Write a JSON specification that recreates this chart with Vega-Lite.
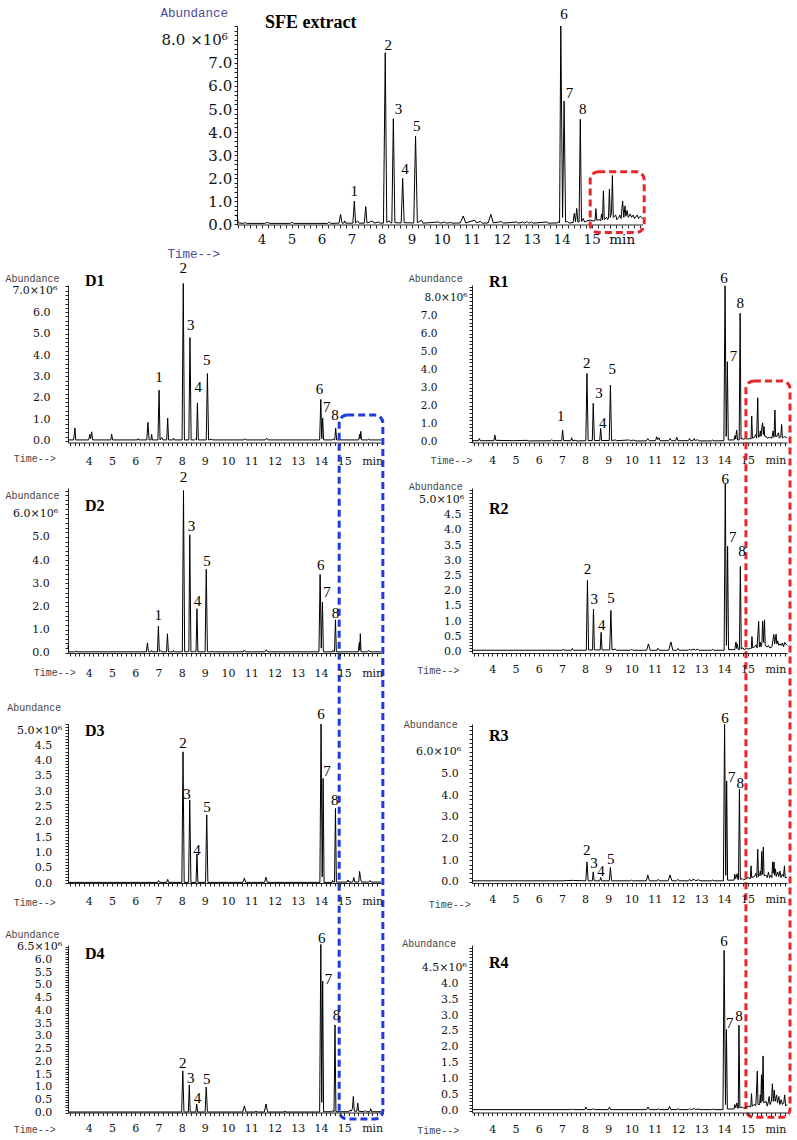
{
"$schema": "https://vega.github.io/schema/vega-lite/v6.json",
"padding": {"left": 5, "top": 6, "right": 2, "bottom": 2},
"bounds": "flush",
"spacing": 60,
"config": {"view": {"stroke": null}, "axis": {"grid": false, "domainColor": "#222", "tickColor": "#222", "labelColor": "#111", "tickSize": 3, "domainWidth": 1}},
"datasets": {
"sfe": [{"t":3.18,"y":0.43},{"t":3.22,"y":0.06},{"t":3.4,"y":0.04},{"t":3.45,"y":0.08},{"t":3.5,"y":0.04},{"t":4.1,"y":0.04},{"t":4.2,"y":0.08},{"t":4.28,"y":0.04},{"t":4.95,"y":0.04},{"t":5.0,"y":0.08},{"t":5.1,"y":0.04},{"t":6.2,"y":0.04},{"t":6.25,"y":0.1},{"t":6.3,"y":0.04},{"t":6.58,"y":0.05},{"t":6.63,"y":0.43},{"t":6.68,"y":0.06},{"t":6.74,"y":0.05},{"t":6.77,"y":0.15},{"t":6.8,"y":0.05},{"t":7.04,"y":0.05},{"t":7.09,"y":1.01},{"t":7.13,"y":0.06},{"t":7.2,"y":0.15},{"t":7.25,"y":0.05},{"t":7.42,"y":0.05},{"t":7.47,"y":0.77},{"t":7.51,"y":0.06},{"t":7.7,"y":0.14},{"t":7.75,"y":0.05},{"t":7.9,"y":0.1},{"t":7.95,"y":0.05},{"t":8.06,"y":0.05},{"t":8.12,"y":7.44},{"t":8.17,"y":0.08},{"t":8.25,"y":0.15},{"t":8.3,"y":0.06},{"t":8.34,"y":0.06},{"t":8.39,"y":4.58},{"t":8.44,"y":0.07},{"t":8.65,"y":0.06},{"t":8.7,"y":1.99},{"t":8.75,"y":0.07},{"t":9.07,"y":0.06},{"t":9.13,"y":3.83},{"t":9.19,"y":0.07},{"t":9.33,"y":0.18},{"t":9.38,"y":0.05},{"t":9.9,"y":0.1},{"t":9.95,"y":0.05},{"t":10.1,"y":0.1},{"t":10.15,"y":0.05},{"t":10.3,"y":0.08},{"t":10.35,"y":0.05},{"t":10.62,"y":0.06},{"t":10.72,"y":0.36},{"t":10.8,"y":0.06},{"t":11.1,"y":0.18},{"t":11.15,"y":0.07},{"t":11.3,"y":0.12},{"t":11.35,"y":0.05},{"t":11.55,"y":0.06},{"t":11.64,"y":0.43},{"t":11.72,"y":0.06},{"t":12.0,"y":0.12},{"t":12.05,"y":0.05},{"t":12.5,"y":0.1},{"t":12.55,"y":0.05},{"t":12.7,"y":0.1},{"t":12.75,"y":0.05},{"t":12.85,"y":0.12},{"t":12.9,"y":0.05},{"t":13.0,"y":0.1},{"t":13.05,"y":0.05},{"t":13.5,"y":0.1},{"t":13.55,"y":0.05},{"t":13.85,"y":0.06},{"t":13.9,"y":0.12},{"t":13.93,"y":0.06},{"t":13.97,"y":8.6},{"t":14.03,"y":0.3},{"t":14.08,"y":5.35},{"t":14.13,"y":0.1},{"t":14.2,"y":0.12},{"t":14.25,"y":0.05},{"t":14.38,"y":0.08},{"t":14.42,"y":0.47},{"t":14.46,"y":0.1},{"t":14.5,"y":0.69},{"t":14.54,"y":0.1},{"t":14.58,"y":0.1},{"t":14.62,"y":4.55},{"t":14.66,"y":0.12},{"t":14.72,"y":0.25},{"t":14.76,"y":0.1},{"t":14.85,"y":0.15},{"t":14.95,"y":0.18},{"t":15.05,"y":0.15},{"t":15.11,"y":0.15},{"t":15.14,"y":0.68},{"t":15.17,"y":0.18},{"t":15.25,"y":0.2},{"t":15.3,"y":0.15},{"t":15.33,"y":0.45},{"t":15.36,"y":0.2},{"t":15.39,"y":1.45},{"t":15.42,"y":0.2},{"t":15.5,"y":0.3},{"t":15.53,"y":0.2},{"t":15.56,"y":0.25},{"t":15.59,"y":1.52},{"t":15.62,"y":0.3},{"t":15.66,"y":0.5},{"t":15.69,"y":2.12},{"t":15.72,"y":0.3},{"t":15.8,"y":0.4},{"t":15.84,"y":0.2},{"t":15.9,"y":0.3},{"t":15.94,"y":0.4},{"t":15.98,"y":0.25},{"t":16.03,"y":1.01},{"t":16.07,"y":0.3},{"t":16.11,"y":0.8},{"t":16.14,"y":0.35},{"t":16.18,"y":0.6},{"t":16.22,"y":0.3},{"t":16.28,"y":0.45},{"t":16.33,"y":0.3},{"t":16.38,"y":0.4},{"t":16.43,"y":0.25},{"t":16.48,"y":0.35},{"t":16.52,"y":0.4},{"t":16.56,"y":0.25},{"t":16.62,"y":0.35},{"t":16.7,"y":0.25}],
"sfeL": [{"n":"1","t":7.09,"y":1.45},{"n":"2","t":8.22,"y":7.76},{"n":"3","t":8.56,"y":4.99},{"n":"4","t":8.78,"y":2.38},{"n":"5","t":9.17,"y":4.26},{"n":"6","t":14.08,"y":9.1},{"n":"7","t":14.26,"y":5.71},{"n":"8","t":14.7,"y":5.01}],
"d1": [{"t":3.11,"y":0.04},{"t":3.35,"y":0.04},{"t":3.38,"y":0.3},{"t":3.41,"y":0.6},{"t":3.44,"y":0.04},{"t":4.0,"y":0.04},{"t":4.05,"y":0.3},{"t":4.08,"y":0.1},{"t":4.13,"y":0.42},{"t":4.17,"y":0.04},{"t":4.95,"y":0.04},{"t":4.99,"y":0.31},{"t":5.03,"y":0.04},{"t":6.1,"y":0.04},{"t":6.13,"y":0.1},{"t":6.16,"y":0.04},{"t":6.5,"y":0.04},{"t":6.55,"y":0.86},{"t":6.6,"y":0.04},{"t":6.68,"y":0.04},{"t":6.71,"y":0.3},{"t":6.74,"y":0.04},{"t":6.98,"y":0.04},{"t":7.03,"y":2.36},{"t":7.07,"y":0.04},{"t":7.15,"y":0.15},{"t":7.19,"y":0.04},{"t":7.36,"y":0.04},{"t":7.4,"y":1.06},{"t":7.44,"y":0.04},{"t":7.62,"y":0.04},{"t":7.65,"y":0.12},{"t":7.69,"y":0.04},{"t":8.02,"y":0.04},{"t":8.07,"y":7.34},{"t":8.12,"y":0.04},{"t":8.31,"y":0.04},{"t":8.36,"y":4.82},{"t":8.41,"y":0.04},{"t":8.56,"y":0.04},{"t":8.6,"y":0.08},{"t":8.64,"y":0.04},{"t":8.68,"y":1.77},{"t":8.72,"y":0.04},{"t":9.06,"y":0.04},{"t":9.11,"y":3.14},{"t":9.16,"y":0.04},{"t":9.3,"y":0.07},{"t":9.34,"y":0.04},{"t":10.68,"y":0.04},{"t":10.73,"y":0.1},{"t":10.78,"y":0.04},{"t":11.6,"y":0.04},{"t":11.66,"y":0.12},{"t":11.72,"y":0.04},{"t":13.94,"y":0.04},{"t":13.99,"y":1.93},{"t":14.03,"y":0.1},{"t":14.07,"y":1.06},{"t":14.11,"y":0.04},{"t":14.48,"y":0.04},{"t":14.52,"y":0.08},{"t":14.56,"y":0.04},{"t":14.59,"y":0.04},{"t":14.63,"y":0.59},{"t":14.67,"y":0.04},{"t":15.62,"y":0.04},{"t":15.66,"y":0.3},{"t":15.68,"y":0.1},{"t":15.71,"y":0.44},{"t":15.74,"y":0.04},{"t":16.0,"y":0.04},{"t":16.05,"y":0.08},{"t":16.1,"y":0.04},{"t":16.58,"y":0.04}],
"d1L": [{"n":"1","t":7.03,"y":2.99},{"n":"2","t":8.07,"y":8.08},{"n":"3","t":8.39,"y":5.4},{"n":"4","t":8.71,"y":2.52},{"n":"5","t":9.08,"y":3.76},{"n":"6","t":13.93,"y":2.44},{"n":"7","t":14.24,"y":1.59},{"n":"8","t":14.6,"y":1.2}],
"r1": [{"t":3.125,"y":0.06},{"t":3.4,"y":0.06},{"t":3.44,"y":0.18},{"t":3.48,"y":0.06},{"t":4.07,"y":0.06},{"t":4.11,"y":0.37},{"t":4.15,"y":0.08},{"t":4.9,"y":0.06},{"t":5.5,"y":0.08},{"t":5.55,"y":0.05},{"t":6.52,"y":0.06},{"t":6.56,"y":0.12},{"t":6.6,"y":0.06},{"t":6.99,"y":0.06},{"t":7.03,"y":0.65},{"t":7.07,"y":0.07},{"t":7.38,"y":0.06},{"t":7.42,"y":0.22},{"t":7.46,"y":0.06},{"t":7.6,"y":0.08},{"t":7.65,"y":0.05},{"t":8.03,"y":0.06},{"t":8.08,"y":3.79},{"t":8.13,"y":0.07},{"t":8.31,"y":0.07},{"t":8.35,"y":2.13},{"t":8.4,"y":0.07},{"t":8.63,"y":0.07},{"t":8.67,"y":0.74},{"t":8.71,"y":0.07},{"t":9.04,"y":0.07},{"t":9.09,"y":3.14},{"t":9.14,"y":0.07},{"t":9.3,"y":0.1},{"t":9.35,"y":0.06},{"t":9.9,"y":0.1},{"t":9.95,"y":0.05},{"t":10.1,"y":0.1},{"t":10.15,"y":0.05},{"t":10.64,"y":0.05},{"t":10.7,"y":0.18},{"t":10.76,"y":0.06},{"t":11.04,"y":0.06},{"t":11.08,"y":0.28},{"t":11.13,"y":0.12},{"t":11.18,"y":0.22},{"t":11.23,"y":0.06},{"t":11.6,"y":0.06},{"t":11.66,"y":0.18},{"t":11.72,"y":0.06},{"t":11.9,"y":0.06},{"t":11.95,"y":0.25},{"t":12.0,"y":0.06},{"t":12.45,"y":0.06},{"t":12.5,"y":0.18},{"t":12.55,"y":0.06},{"t":12.65,"y":0.06},{"t":12.7,"y":0.18},{"t":12.75,"y":0.06},{"t":12.85,"y":0.12},{"t":12.9,"y":0.05},{"t":13.45,"y":0.05},{"t":13.5,"y":0.1},{"t":13.55,"y":0.05},{"t":13.98,"y":0.06},{"t":14.03,"y":8.65},{"t":14.08,"y":0.3},{"t":14.13,"y":4.44},{"t":14.17,"y":0.1},{"t":14.42,"y":0.1},{"t":14.46,"y":0.35},{"t":14.49,"y":0.15},{"t":14.53,"y":0.65},{"t":14.57,"y":0.1},{"t":14.64,"y":0.1},{"t":14.68,"y":7.12},{"t":14.72,"y":0.15},{"t":14.78,"y":0.2},{"t":14.82,"y":0.12},{"t":14.9,"y":0.18},{"t":15.0,"y":0.15},{"t":15.08,"y":0.18},{"t":15.15,"y":0.15},{"t":15.18,"y":1.42},{"t":15.21,"y":0.2},{"t":15.3,"y":0.25},{"t":15.35,"y":0.4},{"t":15.39,"y":0.2},{"t":15.44,"y":2.44},{"t":15.47,"y":0.25},{"t":15.52,"y":0.3},{"t":15.55,"y":0.6},{"t":15.58,"y":0.3},{"t":15.62,"y":0.85},{"t":15.65,"y":1.05},{"t":15.68,"y":0.4},{"t":15.71,"y":0.85},{"t":15.74,"y":0.3},{"t":15.8,"y":0.3},{"t":15.85,"y":0.2},{"t":15.95,"y":0.25},{"t":16.05,"y":0.2},{"t":16.1,"y":0.6},{"t":16.14,"y":0.25},{"t":16.18,"y":1.76},{"t":16.21,"y":0.3},{"t":16.27,"y":0.3},{"t":16.33,"y":0.5},{"t":16.37,"y":0.2},{"t":16.43,"y":0.3},{"t":16.47,"y":0.96},{"t":16.5,"y":0.2},{"t":16.55,"y":0.25},{"t":16.6,"y":0.3},{"t":16.7,"y":0.2}],
"r1L": [{"n":"1","t":6.95,"y":1.44},{"n":"2","t":8.07,"y":4.38},{"n":"3","t":8.6,"y":2.72},{"n":"4","t":8.76,"y":1.05},{"n":"5","t":9.17,"y":4.01},{"n":"6","t":13.99,"y":9.06},{"n":"7","t":14.39,"y":4.75},{"n":"8","t":14.68,"y":7.67}],
"d2": [{"t":3.11,"y":0.32},{"t":3.14,"y":0.04},{"t":3.4,"y":0.04},{"t":3.45,"y":0.07},{"t":3.5,"y":0.04},{"t":6.48,"y":0.04},{"t":6.53,"y":0.43},{"t":6.57,"y":0.04},{"t":6.68,"y":0.04},{"t":6.71,"y":0.1},{"t":6.74,"y":0.04},{"t":6.96,"y":0.04},{"t":7.0,"y":1.15},{"t":7.04,"y":0.04},{"t":7.1,"y":0.1},{"t":7.14,"y":0.04},{"t":7.35,"y":0.04},{"t":7.39,"y":0.82},{"t":7.43,"y":0.04},{"t":7.62,"y":0.04},{"t":7.65,"y":0.1},{"t":7.69,"y":0.04},{"t":8.03,"y":0.04},{"t":8.08,"y":7.0},{"t":8.13,"y":0.04},{"t":8.22,"y":0.04},{"t":8.25,"y":0.08},{"t":8.28,"y":0.04},{"t":8.31,"y":0.04},{"t":8.35,"y":5.09},{"t":8.4,"y":0.04},{"t":8.5,"y":0.04},{"t":8.54,"y":0.08},{"t":8.58,"y":0.04},{"t":8.62,"y":0.04},{"t":8.66,"y":1.9},{"t":8.7,"y":0.04},{"t":9.01,"y":0.04},{"t":9.06,"y":3.6},{"t":9.11,"y":0.04},{"t":9.27,"y":0.04},{"t":9.3,"y":0.08},{"t":9.33,"y":0.04},{"t":10.65,"y":0.04},{"t":10.7,"y":0.12},{"t":10.75,"y":0.04},{"t":11.58,"y":0.04},{"t":11.64,"y":0.13},{"t":11.7,"y":0.04},{"t":13.91,"y":0.04},{"t":13.96,"y":3.38},{"t":14.01,"y":0.2},{"t":14.06,"y":2.19},{"t":14.1,"y":0.04},{"t":14.47,"y":0.04},{"t":14.5,"y":0.1},{"t":14.53,"y":0.04},{"t":14.58,"y":0.04},{"t":14.62,"y":1.42},{"t":14.66,"y":0.04},{"t":15.6,"y":0.04},{"t":15.65,"y":0.46},{"t":15.67,"y":0.1},{"t":15.69,"y":0.82},{"t":15.72,"y":0.04},{"t":16.0,"y":0.04},{"t":16.05,"y":0.1},{"t":16.1,"y":0.04},{"t":16.58,"y":0.04}],
"d2L": [{"n":"1","t":6.99,"y":1.65},{"n":"2","t":8.08,"y":7.6},{"n":"3","t":8.42,"y":5.47},{"n":"4","t":8.68,"y":2.22},{"n":"5","t":9.09,"y":3.96},{"n":"6","t":13.99,"y":3.77},{"n":"7","t":14.26,"y":2.62},{"n":"8","t":14.62,"y":1.71}],
"r2": [{"t":3.125,"y":0.04},{"t":7.02,"y":0.04},{"t":7.06,"y":0.08},{"t":7.1,"y":0.04},{"t":7.41,"y":0.04},{"t":7.45,"y":0.1},{"t":7.49,"y":0.04},{"t":8.05,"y":0.04},{"t":8.1,"y":2.34},{"t":8.15,"y":0.05},{"t":8.32,"y":0.05},{"t":8.36,"y":1.39},{"t":8.4,"y":0.05},{"t":8.65,"y":0.05},{"t":8.69,"y":0.63},{"t":8.73,"y":0.05},{"t":9.06,"y":0.05},{"t":9.11,"y":1.35},{"t":9.16,"y":0.05},{"t":9.3,"y":0.08},{"t":9.34,"y":0.04},{"t":9.95,"y":0.04},{"t":10.0,"y":0.08},{"t":10.05,"y":0.04},{"t":10.65,"y":0.04},{"t":10.73,"y":0.25},{"t":10.8,"y":0.04},{"t":11.1,"y":0.04},{"t":11.15,"y":0.1},{"t":11.2,"y":0.04},{"t":11.6,"y":0.04},{"t":11.7,"y":0.31},{"t":11.78,"y":0.04},{"t":11.95,"y":0.04},{"t":12.0,"y":0.1},{"t":12.05,"y":0.04},{"t":12.45,"y":0.04},{"t":12.5,"y":0.08},{"t":12.55,"y":0.04},{"t":12.7,"y":0.08},{"t":12.75,"y":0.04},{"t":12.85,"y":0.08},{"t":12.9,"y":0.04},{"t":13.45,"y":0.04},{"t":13.5,"y":0.07},{"t":13.55,"y":0.04},{"t":13.99,"y":0.04},{"t":14.04,"y":5.52},{"t":14.09,"y":0.2},{"t":14.14,"y":3.46},{"t":14.18,"y":0.06},{"t":14.45,"y":0.06},{"t":14.5,"y":0.31},{"t":14.53,"y":0.1},{"t":14.56,"y":0.25},{"t":14.6,"y":0.06},{"t":14.65,"y":0.06},{"t":14.69,"y":2.8},{"t":14.73,"y":0.08},{"t":14.8,"y":0.12},{"t":14.85,"y":0.06},{"t":14.95,"y":0.1},{"t":15.05,"y":0.08},{"t":15.12,"y":0.1},{"t":15.16,"y":0.1},{"t":15.19,"y":0.49},{"t":15.22,"y":0.12},{"t":15.3,"y":0.15},{"t":15.37,"y":0.22},{"t":15.41,"y":0.12},{"t":15.48,"y":0.99},{"t":15.51,"y":0.15},{"t":15.55,"y":0.3},{"t":15.58,"y":0.15},{"t":15.62,"y":0.3},{"t":15.65,"y":1.0},{"t":15.69,"y":0.3},{"t":15.73,"y":1.04},{"t":15.76,"y":0.2},{"t":15.85,"y":0.15},{"t":15.9,"y":0.2},{"t":15.95,"y":0.12},{"t":16.05,"y":0.15},{"t":16.1,"y":0.4},{"t":16.13,"y":0.56},{"t":16.17,"y":0.25},{"t":16.23,"y":0.57},{"t":16.26,"y":0.25},{"t":16.3,"y":0.35},{"t":16.35,"y":0.2},{"t":16.4,"y":0.25},{"t":16.45,"y":0.2},{"t":16.5,"y":0.28},{"t":16.55,"y":0.15},{"t":16.6,"y":0.3},{"t":16.7,"y":0.2}],
"r2L": [{"n":"2","t":8.1,"y":2.72},{"n":"3","t":8.39,"y":1.73},{"n":"4","t":8.72,"y":0.88},{"n":"5","t":9.11,"y":1.77},{"n":"6","t":14.04,"y":5.66},{"n":"7","t":14.36,"y":3.76},{"n":"8","t":14.76,"y":3.32}],
"d3": [{"t":3.11,"y":0.02},{"t":6.97,"y":0.02},{"t":7.01,"y":0.08},{"t":7.05,"y":0.02},{"t":7.36,"y":0.02},{"t":7.4,"y":0.12},{"t":7.44,"y":0.02},{"t":8.01,"y":0.02},{"t":8.06,"y":4.29},{"t":8.11,"y":0.02},{"t":8.3,"y":0.02},{"t":8.35,"y":2.71},{"t":8.4,"y":0.02},{"t":8.62,"y":0.02},{"t":8.66,"y":0.95},{"t":8.7,"y":0.02},{"t":9.03,"y":0.02},{"t":9.08,"y":2.23},{"t":9.13,"y":0.02},{"t":10.64,"y":0.02},{"t":10.7,"y":0.16},{"t":10.76,"y":0.02},{"t":11.57,"y":0.02},{"t":11.63,"y":0.19},{"t":11.69,"y":0.02},{"t":13.95,"y":0.02},{"t":14.0,"y":5.2},{"t":14.05,"y":0.2},{"t":14.09,"y":3.42},{"t":14.13,"y":0.02},{"t":14.47,"y":0.02},{"t":14.5,"y":0.08},{"t":14.53,"y":0.03},{"t":14.58,"y":0.03},{"t":14.62,"y":2.44},{"t":14.66,"y":0.03},{"t":15.12,"y":0.03},{"t":15.16,"y":0.1},{"t":15.2,"y":0.03},{"t":15.36,"y":0.03},{"t":15.41,"y":0.18},{"t":15.45,"y":0.03},{"t":15.62,"y":0.03},{"t":15.66,"y":0.38},{"t":15.7,"y":0.15},{"t":15.74,"y":0.03},{"t":16.05,"y":0.03},{"t":16.1,"y":0.08},{"t":16.15,"y":0.03},{"t":16.58,"y":0.03}],
"d3L": [{"n":"2","t":8.06,"y":4.58},{"n":"3","t":8.23,"y":2.91},{"n":"4","t":8.66,"y":1.09},{"n":"5","t":9.09,"y":2.49},{"n":"6","t":14.0,"y":5.52},{"n":"7","t":14.26,"y":3.67},{"n":"8","t":14.59,"y":2.73}],
"r3": [{"t":3.125,"y":0.05},{"t":7.0,"y":0.05},{"t":7.45,"y":0.07},{"t":8.03,"y":0.05},{"t":8.08,"y":0.92},{"t":8.13,"y":0.05},{"t":8.31,"y":0.05},{"t":8.35,"y":0.46},{"t":8.39,"y":0.05},{"t":8.63,"y":0.05},{"t":8.67,"y":0.2},{"t":8.71,"y":0.05},{"t":9.04,"y":0.05},{"t":9.09,"y":0.66},{"t":9.14,"y":0.05},{"t":9.95,"y":0.05},{"t":10.0,"y":0.08},{"t":10.05,"y":0.05},{"t":10.64,"y":0.05},{"t":10.7,"y":0.32},{"t":10.77,"y":0.05},{"t":11.1,"y":0.05},{"t":11.15,"y":0.12},{"t":11.2,"y":0.05},{"t":11.58,"y":0.05},{"t":11.66,"y":0.32},{"t":11.74,"y":0.05},{"t":11.95,"y":0.05},{"t":12.0,"y":0.12},{"t":12.05,"y":0.05},{"t":12.45,"y":0.05},{"t":12.5,"y":0.12},{"t":12.55,"y":0.05},{"t":12.7,"y":0.12},{"t":12.75,"y":0.05},{"t":12.9,"y":0.1},{"t":12.95,"y":0.05},{"t":13.45,"y":0.05},{"t":13.5,"y":0.09},{"t":13.55,"y":0.05},{"t":13.96,"y":0.05},{"t":14.01,"y":7.25},{"t":14.06,"y":0.3},{"t":14.1,"y":4.65},{"t":14.14,"y":0.08},{"t":14.42,"y":0.08},{"t":14.45,"y":0.35},{"t":14.49,"y":0.15},{"t":14.55,"y":0.38},{"t":14.59,"y":0.1},{"t":14.61,"y":0.1},{"t":14.65,"y":4.26},{"t":14.69,"y":0.12},{"t":14.78,"y":0.15},{"t":14.83,"y":0.1},{"t":14.95,"y":0.15},{"t":15.05,"y":0.2},{"t":15.1,"y":0.15},{"t":15.12,"y":0.15},{"t":15.15,"y":0.74},{"t":15.18,"y":0.2},{"t":15.3,"y":0.25},{"t":15.36,"y":0.4},{"t":15.4,"y":0.2},{"t":15.44,"y":1.5},{"t":15.47,"y":0.25},{"t":15.52,"y":0.3},{"t":15.55,"y":0.5},{"t":15.58,"y":0.3},{"t":15.61,"y":1.4},{"t":15.64,"y":0.35},{"t":15.68,"y":1.61},{"t":15.71,"y":0.3},{"t":15.8,"y":0.3},{"t":15.85,"y":0.2},{"t":15.9,"y":0.45},{"t":15.95,"y":0.2},{"t":16.0,"y":0.3},{"t":16.05,"y":0.2},{"t":16.08,"y":0.92},{"t":16.11,"y":0.4},{"t":16.14,"y":0.92},{"t":16.17,"y":0.3},{"t":16.2,"y":0.6},{"t":16.24,"y":0.25},{"t":16.3,"y":0.45},{"t":16.34,"y":0.25},{"t":16.4,"y":0.5},{"t":16.44,"y":0.2},{"t":16.5,"y":0.35},{"t":16.55,"y":0.25},{"t":16.59,"y":0.74},{"t":16.62,"y":0.2},{"t":16.7,"y":0.2}],
"r3L": [{"n":"2","t":8.07,"y":1.46},{"n":"3","t":8.38,"y":0.89},{"n":"4","t":8.68,"y":0.48},{"n":"5","t":9.1,"y":1.07},{"n":"6","t":14.03,"y":7.56},{"n":"7","t":14.32,"y":4.85},{"n":"8","t":14.68,"y":4.57}],
"d4": [{"t":3.11,"y":0.02},{"t":8.0,"y":0.02},{"t":8.05,"y":1.63},{"t":8.1,"y":0.02},{"t":8.29,"y":0.02},{"t":8.33,"y":1.08},{"t":8.37,"y":0.02},{"t":8.61,"y":0.02},{"t":8.65,"y":0.33},{"t":8.69,"y":0.02},{"t":9.01,"y":0.02},{"t":9.06,"y":1.0},{"t":9.11,"y":0.02},{"t":10.63,"y":0.02},{"t":10.7,"y":0.26},{"t":10.77,"y":0.02},{"t":11.15,"y":0.02},{"t":11.2,"y":0.05},{"t":11.25,"y":0.02},{"t":11.56,"y":0.02},{"t":11.63,"y":0.33},{"t":11.7,"y":0.02},{"t":12.4,"y":0.02},{"t":12.45,"y":0.05},{"t":12.5,"y":0.02},{"t":13.94,"y":0.02},{"t":13.99,"y":6.58},{"t":14.03,"y":0.4},{"t":14.07,"y":5.15},{"t":14.11,"y":0.03},{"t":14.46,"y":0.03},{"t":14.5,"y":0.08},{"t":14.54,"y":0.03},{"t":14.56,"y":0.03},{"t":14.6,"y":3.43},{"t":14.64,"y":0.03},{"t":15.2,"y":0.03},{"t":15.25,"y":0.1},{"t":15.3,"y":0.05},{"t":15.35,"y":0.15},{"t":15.39,"y":0.63},{"t":15.43,"y":0.05},{"t":15.54,"y":0.05},{"t":15.58,"y":0.37},{"t":15.62,"y":0.05},{"t":15.85,"y":0.03},{"t":15.9,"y":0.08},{"t":15.95,"y":0.03},{"t":16.1,"y":0.03},{"t":16.14,"y":0.15},{"t":16.18,"y":0.03},{"t":16.58,"y":0.03}],
"d4L": [{"n":"2","t":8.05,"y":1.92},{"n":"3","t":8.39,"y":1.37},{"n":"4","t":8.68,"y":0.55},{"n":"5","t":9.08,"y":1.3},{"n":"6","t":14.03,"y":6.84},{"n":"7","t":14.32,"y":5.22},{"n":"8","t":14.67,"y":3.81}],
"r4": [{"t":3.125,"y":0.04},{"t":7.4,"y":0.04},{"t":7.45,"y":0.06},{"t":7.5,"y":0.04},{"t":7.99,"y":0.04},{"t":8.04,"y":0.12},{"t":8.09,"y":0.04},{"t":8.3,"y":0.04},{"t":8.35,"y":0.07},{"t":8.4,"y":0.04},{"t":9.0,"y":0.04},{"t":9.05,"y":0.12},{"t":9.1,"y":0.04},{"t":10.65,"y":0.04},{"t":10.71,"y":0.12},{"t":10.77,"y":0.04},{"t":11.1,"y":0.04},{"t":11.15,"y":0.07},{"t":11.2,"y":0.04},{"t":11.58,"y":0.04},{"t":11.64,"y":0.14},{"t":11.7,"y":0.04},{"t":11.95,"y":0.04},{"t":12.0,"y":0.07},{"t":12.05,"y":0.04},{"t":12.45,"y":0.04},{"t":12.5,"y":0.07},{"t":12.55,"y":0.04},{"t":12.7,"y":0.07},{"t":12.75,"y":0.04},{"t":12.9,"y":0.06},{"t":12.95,"y":0.04},{"t":13.45,"y":0.04},{"t":13.5,"y":0.06},{"t":13.55,"y":0.04},{"t":13.94,"y":0.04},{"t":13.99,"y":5.02},{"t":14.05,"y":0.2},{"t":14.09,"y":2.55},{"t":14.13,"y":0.06},{"t":14.42,"y":0.06},{"t":14.45,"y":0.2},{"t":14.49,"y":0.1},{"t":14.54,"y":0.25},{"t":14.58,"y":0.08},{"t":14.6,"y":0.08},{"t":14.63,"y":2.68},{"t":14.67,"y":0.1},{"t":14.78,"y":0.12},{"t":14.85,"y":0.08},{"t":14.95,"y":0.12},{"t":15.05,"y":0.15},{"t":15.12,"y":0.12},{"t":15.14,"y":0.12},{"t":15.17,"y":0.54},{"t":15.2,"y":0.15},{"t":15.3,"y":0.2},{"t":15.35,"y":0.15},{"t":15.38,"y":0.5},{"t":15.42,"y":1.25},{"t":15.45,"y":0.2},{"t":15.52,"y":0.2},{"t":15.55,"y":0.5},{"t":15.57,"y":0.25},{"t":15.6,"y":1.13},{"t":15.63,"y":0.3},{"t":15.67,"y":1.72},{"t":15.7,"y":0.25},{"t":15.8,"y":0.3},{"t":15.85,"y":0.15},{"t":15.9,"y":0.3},{"t":15.93,"y":0.45},{"t":15.97,"y":0.2},{"t":16.03,"y":0.3},{"t":16.07,"y":0.85},{"t":16.11,"y":0.3},{"t":16.15,"y":0.65},{"t":16.19,"y":0.3},{"t":16.25,"y":0.5},{"t":16.29,"y":0.25},{"t":16.35,"y":0.45},{"t":16.39,"y":0.2},{"t":16.45,"y":0.35},{"t":16.5,"y":0.2},{"t":16.56,"y":0.25},{"t":16.6,"y":0.5},{"t":16.64,"y":0.15},{"t":16.7,"y":0.2}],
"r4L": [{"n":"6","t":13.99,"y":5.31},{"n":"7","t":14.23,"y":2.76},{"n":"8","t":14.63,"y":2.97}]
},
"vconcat": [
{"width": 575, "height": 199, "layer": [
 {"data": {"name": "sfe"}, "mark": {"type": "line", "color": "#000", "strokeWidth": 1, "clip": false},
  "encoding": {
   "x": {"field": "t", "type": "quantitative", "scale": {"domain": [-2.4533, 16.71], "nice": false, "zero": false},
    "axis": {"tickCount": 96, "domain": false, "tickOpacity": {"condition": {"test": "datum.value < 3.18", "value": 0}, "value": 1}, "labelExpr": "datum.value < 3.18 ? '' : (datum.value == 16 ? 'min' : (datum.value % 1 == 0 ? '' + datum.value : ''))", "labelOverlap": false, "labelFlush": false, "labelBound": false, "labelFont": "DejaVu Serif", "labelFontSize": 13.5, "labelBaseline": "middle", "labelPadding": 11, "title": "Time-->", "titleFont": "Liberation Mono", "titleFontSize": 12.5, "titleFontWeight": "normal", "titleColor": "#4b4b9b", "titleAngle": 0, "titleAlign": "left", "titleBaseline": "middle", "titleX": 99, "titleY": 28}},
   "y": {"field": "y", "type": "quantitative", "scale": {"domain": [-0.03, 8.6], "nice": false, "zero": false},
    "axis": {"offset": -169, "tickCount": 43, "labelExpr": "datum.value == 8 ? '8.0 ×10⁶' : (datum.value % 1 == 0 && datum.value < 8 ? format(datum.value, '.1f') : '')", "labelOverlap": false, "labelFlush": false, "labelBound": false, "labelFont": "DejaVu Serif", "labelFontSize": 15, "labelPadding": {"condition": {"test": "datum.value == 8", "value": 6.7}, "value": 2.3}, "title": "Abundance", "titleFont": "Liberation Mono", "titleFontSize": 12.5, "titleFontWeight": "normal", "titleColor": "#4b4b9b", "titleAngle": 0, "titleAlign": "left", "titleBaseline": "alphabetic", "titleX": -77, "titleY": -10}}}},
 {"data": {"values": [{}]}, "mark": {"type": "rule", "color": "#222", "strokeWidth": 1}, "encoding": {"x": {"datum": 3.18}, "x2": {"datum": 16.71}, "y": {"datum": -0.03}}},
 {"data": {"name": "sfeL"}, "mark": {"type": "text", "font": "Liberation Serif", "fontSize": 15, "baseline": "middle"}, "encoding": {"x": {"field": "t", "type": "quantitative"}, "y": {"field": "y", "type": "quantitative"}, "text": {"field": "n"}}},
 {"data": {"values": [{}]}, "mark": {"type": "text", "text": "SFE extract", "font": "Liberation Serif", "fontWeight": "bold", "fontSize": 18, "align": "left", "baseline": "alphabetic"}, "encoding": {"x": {"datum": 4.11}, "y": {"datum": 8.51}}},
 {"data": {"values": [{}]}, "mark": {"type": "rect", "fill": "#fff", "fillOpacity": 0, "stroke": "#e8262c", "strokeWidth": 3, "strokeDash": [7, 4], "cornerRadius": 8, "clip": false}, "encoding": {"x": {"datum": 14.95}, "x2": {"datum": 16.75}, "y": {"datum": 2.28}, "y2": {"datum": -0.35}}}
]},
{"bounds": "flush", "columns": 2, "spacing": {"row": 22, "column": 91}, "align": "each", "concat": [
{"width": 313, "height": 157.5, "layer": [
 {"data": {"name": "d1"}, "mark": {"type": "line", "color": "#000", "strokeWidth": 1, "clip": false},
  "encoding": {
   "x": {"field": "t", "type": "quantitative", "scale": {"domain": [3.11, 16.58], "nice": false, "zero": false},
    "axis": {"tickCount": 67, "labelExpr": "datum.value == 16.2 ? 'min' : (datum.value % 1 == 0 && datum.value < 16 ? '' + datum.value : '')", "labelOverlap": false, "labelFlush": false, "labelBound": false, "labelFont": "DejaVu Serif", "labelFontSize": 11, "labelBaseline": "middle", "labelPadding": 16, "title": "Time-->", "titleFont": "Liberation Mono", "titleFontSize": 10, "titleFontWeight": "normal", "titleColor": "#444", "titleAngle": 0, "titleAlign": "left", "titleBaseline": "middle", "titleX": -54.7, "titleY": 15.8}},
   "y": {"field": "y", "type": "quantitative", "scale": {"domain": [-0.08, 7.27], "nice": false, "zero": false},
    "axis": {"tickCount": 37, "labelExpr": "datum.value == 7 ? '7.0×10⁶' : (datum.value % 1 == 0 && datum.value < 7 ? format(datum.value, '.1f') : '')", "labelOverlap": false, "labelFlush": false, "labelBound": false, "labelFont": "DejaVu Serif", "labelFontSize": 11, "labelPadding": {"condition": {"test": "datum.value == 7", "value": 8}, "value": 15}, "title": "Abundance", "titleFont": "Liberation Mono", "titleFontSize": 10, "titleFontWeight": "normal", "titleColor": "#444", "titleAngle": 0, "titleAlign": "left", "titleBaseline": "alphabetic", "titleX": -63, "titleY": -3.5}}}},
 {"data": {"name": "d1L"}, "mark": {"type": "text", "font": "Liberation Serif", "fontSize": 15, "baseline": "middle"}, "encoding": {"x": {"field": "t", "type": "quantitative"}, "y": {"field": "y", "type": "quantitative"}, "text": {"field": "n"}}},
 {"data": {"values": [{}]}, "mark": {"type": "text", "text": "D1", "font": "Liberation Serif", "fontWeight": "bold", "fontSize": 16, "align": "left", "baseline": "alphabetic"}, "encoding": {"x": {"datum": 3.84}, "y": {"datum": 7.22}}},
 {"data": {"values": [{}]}, "mark": {"type": "rect", "fill": "#fff", "fillOpacity": 0, "stroke": "#1f3be0", "strokeWidth": 3, "strokeDash": [7, 4], "cornerRadius": 8, "clip": false}, "encoding": {"x": {"datum": 14.78}, "x2": {"datum": 16.66}, "y": {"datum": 1.2}, "y2": {"datum": -31.65}}}
]},
{"width": 315, "height": 157.5, "layer": [
 {"data": {"name": "r1"}, "mark": {"type": "line", "color": "#000", "strokeWidth": 1, "clip": false},
  "encoding": {
   "x": {"field": "t", "type": "quantitative", "scale": {"domain": [3.125, 16.7], "nice": false, "zero": false},
    "axis": {"tickCount": 68, "labelExpr": "datum.value == 16.2 ? 'min' : (datum.value % 1 == 0 && datum.value < 16 ? '' + datum.value : '')", "labelOverlap": false, "labelFlush": false, "labelBound": false, "labelFont": "DejaVu Serif", "labelFontSize": 11, "labelBaseline": "middle", "labelPadding": 14.5, "title": "Time-->", "titleFont": "Liberation Mono", "titleFontSize": 10, "titleFontWeight": "normal", "titleColor": "#444", "titleAngle": 0, "titleAlign": "left", "titleBaseline": "middle", "titleX": -42, "titleY": 17.5}},
   "y": {"field": "y", "type": "quantitative", "scale": {"domain": [-0.04, 8.69], "nice": false, "zero": false},
    "axis": {"tickCount": 44, "labelExpr": "datum.value == 8 ? '8.0×10⁶' : (datum.value % 1 == 0 && datum.value < 8 ? format(datum.value, '.1f') : '')", "labelOverlap": false, "labelFlush": false, "labelBound": false, "labelFont": "DejaVu Serif", "labelFontSize": 10.5, "labelPadding": {"condition": {"test": "datum.value == 8", "value": 2}, "value": 32}, "title": "Abundance", "titleFont": "Liberation Mono", "titleFontSize": 10, "titleFontWeight": "normal", "titleColor": "#444", "titleAngle": 0, "titleAlign": "left", "titleBaseline": "alphabetic", "titleX": -63.7, "titleY": -3.2}}}},
 {"data": {"name": "r1L"}, "mark": {"type": "text", "font": "Liberation Serif", "fontSize": 15, "baseline": "middle"}, "encoding": {"x": {"field": "t", "type": "quantitative"}, "y": {"field": "y", "type": "quantitative"}, "text": {"field": "n"}}},
 {"data": {"values": [{}]}, "mark": {"type": "text", "text": "R1", "font": "Liberation Serif", "fontWeight": "bold", "fontSize": 16, "align": "left", "baseline": "alphabetic"}, "encoding": {"x": {"datum": 3.86}, "y": {"datum": 8.6}}},
 {"data": {"values": [{}]}, "mark": {"type": "rect", "fill": "#fff", "fillOpacity": 0, "stroke": "#e8262c", "strokeWidth": 3, "strokeDash": [7, 4], "cornerRadius": 8, "clip": false}, "encoding": {"x": {"datum": 14.93}, "x2": {"datum": 16.83}, "y": {"datum": 3.37}, "y2": {"datum": -37.44}}}
]},
{"width": 1, "height": 1, "data": {"values": [{}]}, "mark": {"type": "point", "opacity": 0}},
{"width": 1, "height": 1, "data": {"values": [{}]}, "mark": {"type": "point", "opacity": 0}},
{"width": 313, "height": 165, "layer": [
 {"data": {"name": "d2"}, "mark": {"type": "line", "color": "#000", "strokeWidth": 1, "clip": false},
  "encoding": {
   "x": {"field": "t", "type": "quantitative", "scale": {"domain": [3.11, 16.58], "nice": false, "zero": false},
    "axis": {"tickCount": 67, "labelExpr": "datum.value == 16.2 ? 'min' : (datum.value % 1 == 0 && datum.value < 16 ? '' + datum.value : '')", "labelOverlap": false, "labelFlush": false, "labelBound": false, "labelFont": "DejaVu Serif", "labelFontSize": 11, "labelBaseline": "middle", "labelPadding": 17, "title": "Time-->", "titleFont": "Liberation Mono", "titleFontSize": 10, "titleFontWeight": "normal", "titleColor": "#444", "titleAngle": 0, "titleAlign": "left", "titleBaseline": "middle", "titleX": -34.7, "titleY": 19.8}},
   "y": {"field": "y", "type": "quantitative", "scale": {"domain": [-0.01, 7.11], "nice": false, "zero": false},
    "axis": {"tickCount": 36, "labelExpr": "datum.value == 6 ? '6.0×10⁶' : (datum.value % 1 == 0 && datum.value < 6 ? format(datum.value, '.1f') : '')", "labelOverlap": false, "labelFlush": false, "labelBound": false, "labelFont": "DejaVu Serif", "labelFontSize": 11, "labelPadding": {"condition": {"test": "datum.value == 6", "value": 7.3}, "value": 15.7}, "title": "Abundance", "titleFont": "Liberation Mono", "titleFontSize": 10, "titleFontWeight": "normal", "titleColor": "#444", "titleAngle": 0, "titleAlign": "left", "titleBaseline": "alphabetic", "titleX": -63, "titleY": 10}}}},
 {"data": {"name": "d2L"}, "mark": {"type": "text", "font": "Liberation Serif", "fontSize": 15, "baseline": "middle"}, "encoding": {"x": {"field": "t", "type": "quantitative"}, "y": {"field": "y", "type": "quantitative"}, "text": {"field": "n"}}},
 {"data": {"values": [{}]}, "mark": {"type": "text", "text": "D2", "font": "Liberation Serif", "fontWeight": "bold", "fontSize": 16, "align": "left", "baseline": "alphabetic"}, "encoding": {"x": {"datum": 3.84}, "y": {"datum": 6.11}}}
]},
{"width": 315, "height": 165, "layer": [
 {"data": {"name": "r2"}, "mark": {"type": "line", "color": "#000", "strokeWidth": 1, "clip": false},
  "encoding": {
   "x": {"field": "t", "type": "quantitative", "scale": {"domain": [3.125, 16.7], "nice": false, "zero": false},
    "axis": {"tickCount": 68, "labelExpr": "datum.value == 16.2 ? 'min' : (datum.value % 1 == 0 && datum.value < 16 ? '' + datum.value : '')", "labelOverlap": false, "labelFlush": false, "labelBound": false, "labelFont": "DejaVu Serif", "labelFontSize": 11, "labelBaseline": "middle", "labelPadding": 13, "title": "Time-->", "titleFont": "Liberation Mono", "titleFontSize": 10, "titleFontWeight": "normal", "titleColor": "#444", "titleAngle": 0, "titleAlign": "left", "titleBaseline": "middle", "titleX": -55.3, "titleY": 17.5}},
   "y": {"field": "y", "type": "quantitative", "scale": {"domain": [-0.05, 5.38], "nice": false, "zero": false},
    "axis": {"tickCount": 54, "labelExpr": "datum.value == 5 ? '5.0×10⁶' : (datum.value % 0.5 == 0 && datum.value < 5 ? format(datum.value, '.1f') : '')", "labelOverlap": false, "labelFlush": false, "labelBound": false, "labelFont": "DejaVu Serif", "labelFontSize": 11, "labelPadding": {"condition": {"test": "datum.value == 5", "value": 5.3}, "value": 8}, "title": "Abundance", "titleFont": "Liberation Mono", "titleFontSize": 10, "titleFontWeight": "normal", "titleColor": "#444", "titleAngle": 0, "titleAlign": "left", "titleBaseline": "alphabetic", "titleX": -63.7, "titleY": 1}}}},
 {"data": {"name": "r2L"}, "mark": {"type": "text", "font": "Liberation Serif", "fontSize": 15, "baseline": "middle"}, "encoding": {"x": {"field": "t", "type": "quantitative"}, "y": {"field": "y", "type": "quantitative"}, "text": {"field": "n"}}},
 {"data": {"values": [{}]}, "mark": {"type": "text", "text": "R2", "font": "Liberation Serif", "fontWeight": "bold", "fontSize": 16, "align": "left", "baseline": "alphabetic"}, "encoding": {"x": {"datum": 3.86}, "y": {"datum": 4.53}}}
]},
{"width": 1, "height": 26.5, "data": {"values": [{}]}, "mark": {"type": "point", "opacity": 0}},
{"width": 1, "height": 26.5, "data": {"values": [{}]}, "mark": {"type": "point", "opacity": 0}},
{"width": 313, "height": 159, "layer": [
 {"data": {"name": "d3"}, "mark": {"type": "line", "color": "#000", "strokeWidth": 1, "clip": false},
  "encoding": {
   "x": {"field": "t", "type": "quantitative", "scale": {"domain": [3.11, 16.58], "nice": false, "zero": false},
    "axis": {"tickCount": 67, "labelExpr": "datum.value == 16.2 ? 'min' : (datum.value % 1 == 0 && datum.value < 16 ? '' + datum.value : '')", "labelOverlap": false, "labelFlush": false, "labelBound": false, "labelFont": "DejaVu Serif", "labelFontSize": 11, "labelBaseline": "middle", "labelPadding": 15.7, "title": "Time-->", "titleFont": "Liberation Mono", "titleFontSize": 10, "titleFontWeight": "normal", "titleColor": "#444", "titleAngle": 0, "titleAlign": "left", "titleBaseline": "middle", "titleX": -54.7, "titleY": 19.7}},
   "y": {"field": "y", "type": "quantitative", "scale": {"domain": [0, 5.2], "nice": false, "zero": false},
    "axis": {"tickCount": 52, "labelExpr": "datum.value == 5 ? '5.0×10⁶' : (datum.value % 0.5 == 0 && datum.value < 5 ? format(datum.value, '.1f') : '')", "labelOverlap": false, "labelFlush": false, "labelBound": false, "labelFont": "DejaVu Serif", "labelFontSize": 11, "labelPadding": {"condition": {"test": "datum.value == 5", "value": 3.3}, "value": 13.3}, "title": "Abundance", "titleFont": "Liberation Mono", "titleFontSize": 10, "titleFontWeight": "normal", "titleColor": "#444", "titleAngle": 0, "titleAlign": "left", "titleBaseline": "alphabetic", "titleX": -61.3, "titleY": -13.5}}}},
 {"data": {"name": "d3L"}, "mark": {"type": "text", "font": "Liberation Serif", "fontSize": 15, "baseline": "middle"}, "encoding": {"x": {"field": "t", "type": "quantitative"}, "y": {"field": "y", "type": "quantitative"}, "text": {"field": "n"}}},
 {"data": {"values": [{}]}, "mark": {"type": "text", "text": "D3", "font": "Liberation Serif", "fontWeight": "bold", "fontSize": 16, "align": "left", "baseline": "alphabetic"}, "encoding": {"x": {"datum": 3.84}, "y": {"datum": 4.81}}}
]},
{"width": 315, "height": 159, "layer": [
 {"data": {"name": "r3"}, "mark": {"type": "line", "color": "#000", "strokeWidth": 1, "clip": false},
  "encoding": {
   "x": {"field": "t", "type": "quantitative", "scale": {"domain": [3.125, 16.7], "nice": false, "zero": false},
    "axis": {"tickCount": 68, "labelExpr": "datum.value == 16.2 ? 'min' : (datum.value % 1 == 0 && datum.value < 16 ? '' + datum.value : '')", "labelOverlap": false, "labelFlush": false, "labelBound": false, "labelFont": "DejaVu Serif", "labelFontSize": 11, "labelBaseline": "middle", "labelPadding": 13.3, "title": "Time-->", "titleFont": "Liberation Mono", "titleFontSize": 10, "titleFontWeight": "normal", "titleColor": "#444", "titleAngle": 0, "titleAlign": "left", "titleBaseline": "middle", "titleX": -43.7, "titleY": 21.3}},
   "y": {"field": "y", "type": "quantitative", "scale": {"domain": [-0.05, 7.27], "nice": false, "zero": false},
    "axis": {"tickCount": 37, "labelExpr": "datum.value == 6 ? '6.0×10⁶' : (datum.value % 1 == 0 && datum.value < 6 ? format(datum.value, '.1f') : '')", "labelOverlap": false, "labelFlush": false, "labelBound": false, "labelFont": "DejaVu Serif", "labelFontSize": 11, "labelPadding": {"condition": {"test": "datum.value == 6", "value": 8.3}, "value": 10.7}, "title": "Abundance", "titleFont": "Liberation Mono", "titleFontSize": 10, "titleFontWeight": "normal", "titleColor": "#444", "titleAngle": 0, "titleAlign": "left", "titleBaseline": "alphabetic", "titleX": -68.7, "titleY": 3.2}}}},
 {"data": {"name": "r3L"}, "mark": {"type": "text", "font": "Liberation Serif", "fontSize": 15, "baseline": "middle"}, "encoding": {"x": {"field": "t", "type": "quantitative"}, "y": {"field": "y", "type": "quantitative"}, "text": {"field": "n"}}},
 {"data": {"values": [{}]}, "mark": {"type": "text", "text": "R3", "font": "Liberation Serif", "fontWeight": "bold", "fontSize": 16, "align": "left", "baseline": "alphabetic"}, "encoding": {"x": {"datum": 3.86}, "y": {"datum": 6.49}}}
]},
{"width": 1, "height": 18, "data": {"values": [{}]}, "mark": {"type": "point", "opacity": 0}},
{"width": 1, "height": 18, "data": {"values": [{}]}, "mark": {"type": "point", "opacity": 0}},
{"width": 313, "height": 167.5, "layer": [
 {"data": {"name": "d4"}, "mark": {"type": "line", "color": "#000", "strokeWidth": 1, "clip": false},
  "encoding": {
   "x": {"field": "t", "type": "quantitative", "scale": {"domain": [3.11, 16.58], "nice": false, "zero": false},
    "axis": {"tickCount": 67, "labelExpr": "datum.value == 16.2 ? 'min' : (datum.value % 1 == 0 && datum.value < 16 ? '' + datum.value : '')", "labelOverlap": false, "labelFlush": false, "labelBound": false, "labelFont": "DejaVu Serif", "labelFontSize": 11, "labelBaseline": "middle", "labelPadding": 13, "title": "Time-->", "titleFont": "Liberation Mono", "titleFontSize": 10, "titleFontWeight": "normal", "titleColor": "#444", "titleAngle": 0, "titleAlign": "left", "titleBaseline": "middle", "titleX": -54.7, "titleY": 16.8}},
   "y": {"field": "y", "type": "quantitative", "scale": {"domain": [0, 6.56], "nice": false, "zero": false},
    "axis": {"tickCount": 66, "labelExpr": "datum.value == 6.5 ? '6.5×10⁶' : (datum.value % 0.5 == 0 && datum.value < 6.5 ? format(datum.value, '.1f') : '')", "labelOverlap": false, "labelFlush": false, "labelBound": false, "labelFont": "DejaVu Serif", "labelFontSize": 11, "labelPadding": {"condition": {"test": "datum.value == 6.5", "value": 3.3}, "value": 13.3}, "title": "Abundance", "titleFont": "Liberation Mono", "titleFontSize": 10, "titleFontWeight": "normal", "titleColor": "#444", "titleAngle": 0, "titleAlign": "left", "titleBaseline": "alphabetic", "titleX": -63, "titleY": -7.2}}}},
 {"data": {"name": "d4L"}, "mark": {"type": "text", "font": "Liberation Serif", "fontSize": 15, "baseline": "middle"}, "encoding": {"x": {"field": "t", "type": "quantitative"}, "y": {"field": "y", "type": "quantitative"}, "text": {"field": "n"}}},
 {"data": {"values": [{}]}, "mark": {"type": "text", "text": "D4", "font": "Liberation Serif", "fontWeight": "bold", "fontSize": 16, "align": "left", "baseline": "alphabetic"}, "encoding": {"x": {"datum": 3.84}, "y": {"datum": 6.0}}}
]},
{"width": 315, "height": 167.5, "layer": [
 {"data": {"name": "r4"}, "mark": {"type": "line", "color": "#000", "strokeWidth": 1, "clip": false},
  "encoding": {
   "x": {"field": "t", "type": "quantitative", "scale": {"domain": [3.125, 16.7], "nice": false, "zero": false},
    "axis": {"tickCount": 68, "labelExpr": "datum.value == 16.2 ? 'min' : (datum.value % 1 == 0 && datum.value < 16 ? '' + datum.value : '')", "labelOverlap": false, "labelFlush": false, "labelBound": false, "labelFont": "DejaVu Serif", "labelFontSize": 11, "labelBaseline": "middle", "labelPadding": 14, "title": "Time-->", "titleFont": "Liberation Mono", "titleFontSize": 10, "titleFontWeight": "normal", "titleColor": "#444", "titleAngle": 0, "titleAlign": "left", "titleBaseline": "middle", "titleX": -55.3, "titleY": 17.5}},
   "y": {"field": "y", "type": "quantitative", "scale": {"domain": [-0.05, 5.19], "nice": false, "zero": false},
    "axis": {"tickCount": 52, "labelExpr": "datum.value == 4.5 ? '4.5×10⁶' : (datum.value % 0.5 == 0 && datum.value < 4.5 ? format(datum.value, '.1f') : '')", "labelOverlap": false, "labelFlush": false, "labelBound": false, "labelFont": "DejaVu Serif", "labelFontSize": 11, "labelPadding": {"condition": {"test": "datum.value == 4.5", "value": 2.6}, "value": 11}, "title": "Abundance", "titleFont": "Liberation Mono", "titleFontSize": 10, "titleFontWeight": "normal", "titleColor": "#444", "titleAngle": 0, "titleAlign": "left", "titleBaseline": "alphabetic", "titleX": -70.3, "titleY": 1.8}}}},
 {"data": {"name": "r4L"}, "mark": {"type": "text", "font": "Liberation Serif", "fontSize": 15, "baseline": "middle"}, "encoding": {"x": {"field": "t", "type": "quantitative"}, "y": {"field": "y", "type": "quantitative"}, "text": {"field": "n"}}},
 {"data": {"values": [{}]}, "mark": {"type": "text", "text": "R4", "font": "Liberation Serif", "fontWeight": "bold", "fontSize": 16, "align": "left", "baseline": "alphabetic"}, "encoding": {"x": {"datum": 3.86}, "y": {"datum": 4.46}}}
]}
]}
]
}
